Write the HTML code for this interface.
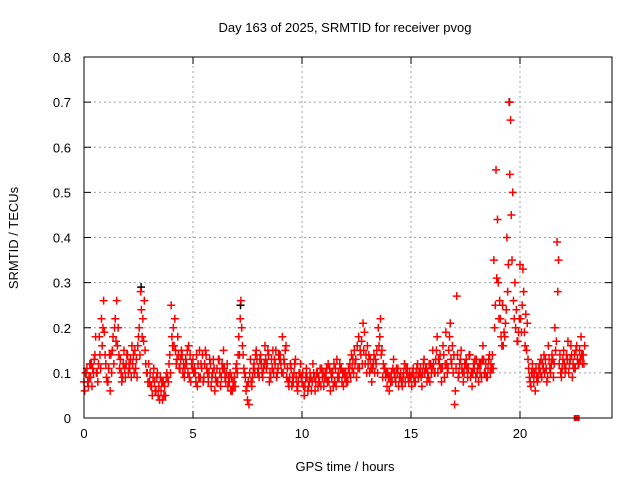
<!DOCTYPE html>
<html><head><meta charset="utf-8"><style>
body{margin:0;background:#fff;}
svg text{font-family:"Liberation Sans",sans-serif;font-size:13px;fill:#000;}
</style></head><body>
<svg id="chart" width="640" height="480" xmlns="http://www.w3.org/2000/svg">
<rect width="640" height="480" fill="#fff"/>
<text x="345" y="32" text-anchor="middle">Day 163 of 2025, SRMTID for receiver pvog</text>
<text x="345" y="471" text-anchor="middle">GPS time / hours</text>
<text x="18" y="238" text-anchor="middle" transform="rotate(-90 18 238)">SRMTID / TECUs</text>
<g id="grid"></g>
<g id="axes"></g>
<g id="marks"></g>
<rect x="84" y="57" width="528" height="361" fill="none" stroke="#000" stroke-width="1"/>
</svg>
<script>
const xTicks=[0,5,10,15,20];
const yTicks=[0,0.1,0.2,0.3,0.4,0.5,0.6,0.7,0.8];
const yTickLabels=["0","0.1","0.2","0.3","0.4","0.5","0.6","0.7","0.8"];
const timeStep=0.1;
const seriesOffsets=[0,0.033,0.067];
// values in 0.01 TECU
const seriesA=[8,10,7,9,11,14,10,18,22,26,12,8,6,15,20,26,14,10,12,9,14,11,16,10,13,18,28,22,15,10,8,7,11,6,5,9,4,7,10,12,25,20,15,18,11,14,9,12,16,8,13,10,7,15,11,9,14,8,12,10,6,11,13,9,15,8,7,10,6,9,12,18,26,14,9,4,10,7,12,15,11,14,9,16,12,8,13,10,15,11,14,18,12,9,7,11,8,13,6,10,8,5,11,7,9,12,6,10,8,11,7,9,12,6,10,8,13,9,11,7,10,8,12,11,15,9,18,14,21,12,16,10,8,14,12,20,22,9,11,7,6,10,13,8,11,9,7,12,10,8,9,11,8,12,10,7,13,11,9,12,15,10,18,12,8,14,19,11,21,16,3,27,10,15,8,12,9,14,7,11,13,8,12,16,10,9,14,11,35,55,30,22,25,18,40,70,45,26,20,17,34,25,19,15,11,7,10,6,8,12,9,14,11,16,10,13,20,39,12,9,15,11,17,13,9,14,16,12,18,14];
const seriesB=[6,11,9,12,10,18,8,14,16,19,9,11,14,18,22,16,11,8,15,12,10,13,12,15,9,20,24,17,12,8,10,5,8,9,7,6,8,5,9,14,18,16,12,14,13,10,11,15,9,12,10,8,12,9,14,12,11,10,7,13,9,8,10,12,11,10,9,6,8,7,10,14,20,11,6,8,13,9,10,13,9,12,11,13,15,10,11,13,9,14,12,10,15,11,9,7,10,9,8,12,10,7,9,8,6,10,8,7,11,9,9,11,8,10,7,11,9,12,8,10,8,11,9,13,12,16,11,17,15,14,12,13,11,10,15,16,14,12,9,10,9,8,10,11,7,10,9,8,11,10,7,9,10,9,11,10,10,8,12,10,12,13,10,14,11,9,12,15,13,10,6,14,12,11,10,13,11,9,10,13,10,12,9,13,12,11,10,14,20,31,22,18,16,21,28,54,35,22,24,19,22,33,16,21,9,10,8,11,9,10,12,10,8,13,12,9,15,28,14,11,12,14,10,16,12,11,13,15,14,12];
const seriesC=[10,8,12,7,13,10,12,11,20,14,8,14,10,12,17,20,13,9,11,14,12,9,14,11,16,14,18,26,10,12,7,9,6,10,4,8,5,9,8,10,16,22,13,11,15,12,13,10,14,11,11,14,9,12,8,15,10,13,9,11,8,13,7,11,9,12,8,9,7,11,14,22,16,10,7,3,8,11,14,10,13,10,12,11,14,9,15,12,10,13,10,13,16,8,12,9,12,7,10,9,7,9,6,10,8,9,10,9,7,10,10,8,11,9,12,7,10,11,10,9,9,10,14,10,13,11,15,12,19,10,14,11,12,13,10,18,15,11,10,9,8,11,9,10,9,8,10,11,9,9,10,8,11,10,9,12,11,10,8,11,10,15,13,11,16,12,10,18,12,14,11,9,13,10,12,11,14,10,12,9,11,10,13,10,9,13,12,11,25,44,26,16,19,24,34,66,50,30,17,22,19,28,23,13,8,12,10,9,11,13,11,13,9,11,14,12,17,35,10,13,10,13,12,14,11,15,12,13,12,16];
const blackTimes=[2.62,7.18,19.52];
const blackValues=[0.29,0.25,0.70];
const squareTimes=[22.6];
const squareValues=[0];

const X0=84,X1=612,Y0=418,Y1=57,XMAX=24.22,YMAX=0.8;
const sx=t=>X0+t/XMAX*(X1-X0);
const sy=v=>Y0-v/YMAX*(Y0-Y1);
const NS="http://www.w3.org/2000/svg";
const grid=document.getElementById('grid'),axes=document.getElementById('axes'),marks=document.getElementById('marks');
function mk(tag,attrs,parent){const e=document.createElementNS(NS,tag);for(const k in attrs)e.setAttribute(k,attrs[k]);parent.appendChild(e);return e;}
xTicks.forEach(t=>{
  const x=sx(t);
  if(t>0){const g=mk('line',{x1:x,x2:x,y1:Y0,y2:Y1,stroke:'#a0a0a0','stroke-dasharray':'2,3'},grid);
  
  }
  const tk=mk('line',{x1:x,x2:x,y1:Y0,y2:Y0-7,stroke:'#000'},axes);
  
  
  const tk2=mk('line',{x1:x,x2:x,y1:Y1,y2:Y1+7,stroke:'#000'},axes);
  
  
  const lb=mk('text',{x:x,y:Y0+20,'text-anchor':'middle'},axes);lb.textContent=String(t);
  
  
});
yTicks.forEach((v,i)=>{
  const y=sy(v);
  if(v>0&&v<YMAX){const g=mk('line',{x1:X0,x2:X1,y1:y,y2:y,stroke:'#a0a0a0','stroke-dasharray':'2,3'},grid);
  
  }
  const tk=mk('line',{x1:X0,x2:X0+7,y1:y,y2:y,stroke:'#000'},axes);
  
  
  const tk2=mk('line',{x1:X1,x2:X1-7,y1:y,y2:y,stroke:'#000'},axes);
  
  
  const lb=mk('text',{x:X0-13,y:y+5,'text-anchor':'end'},axes);lb.textContent=yTickLabels[i];
  
  
});
function cross(t,v,color,name){
  const x=sx(t),y=sy(v);
  const p=mk('path',{d:`M${x-4} ${y}H${x+4}M${x} ${y-4}V${y+4}`,stroke:color,'stroke-width':1.5,fill:'none'},marks);
  
  
}
blackTimes.forEach((t,i)=>cross(t,blackValues[i],'#000','black-point'));
[seriesA,seriesB,seriesC].forEach((s,k)=>{
  s.forEach((v,i)=>cross(i*timeStep+seriesOffsets[k],v/100,'#ff0000','red-point'));
});
squareTimes.forEach((t,i)=>{
  const r=mk('rect',{x:sx(t)-3,y:sy(squareValues[i])-3,width:6,height:6,fill:'#ff0000'},marks);
  
  
});
</script>
</body></html>
